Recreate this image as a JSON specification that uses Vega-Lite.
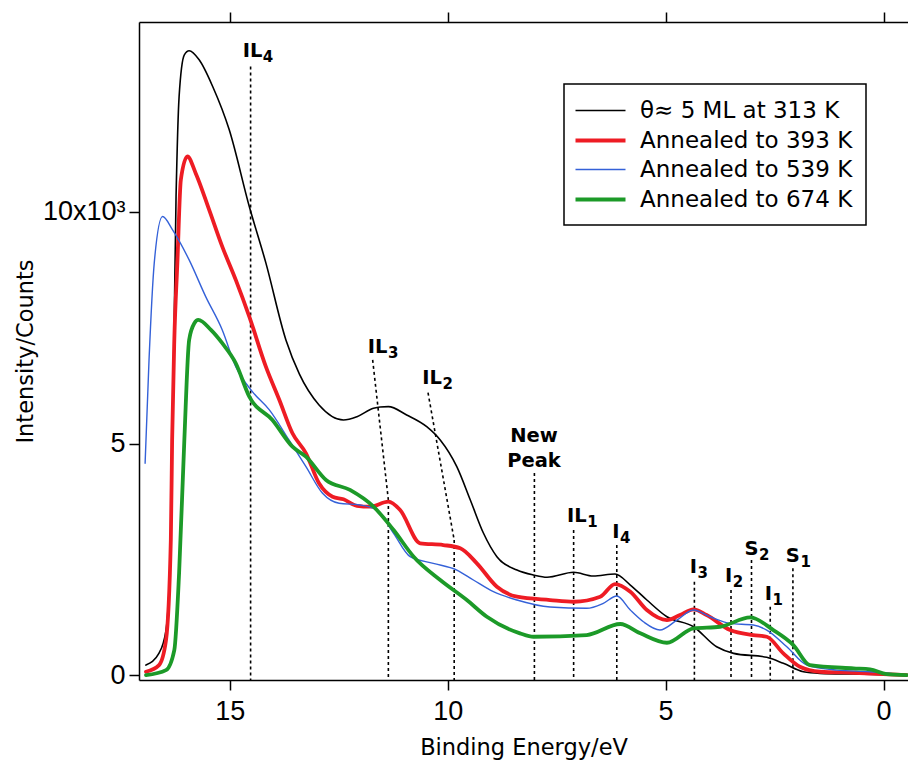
{
"$schema": "https://vega.github.io/schema/vega-lite/v6.json",
"width": 769, "height": 658,
"autosize": {"type": "none"},
"padding": {"left": 139, "top": 22, "right": 0, "bottom": 80},
"background": "white",
"config": {
  "view": {"stroke": null},
  "font": "Liberation Sans",
  "axis": {"domainColor": "black", "domainWidth": 1.5, "tickColor": "black", "tickWidth": 1.5, "tickSize": 10, "labelColor": "black", "titleColor": "black", "grid": false, "labelFont": "Liberation Sans", "labelFontSize": 27, "titleFont": "DejaVu Sans", "titleFontSize": 22.5, "titleFontWeight": "normal", "labelFlush": false, "labelOverlap": false},
  "legend": {"strokeColor": "black", "strokeWidth": 1.5, "fillColor": "white", "padding": 13, "symbolType": "M-2,0H2", "symbolSize": 625, "symbolOffset": 9, "labelOffset": 25, "labelFont": "DejaVu Sans", "labelFontSize": 23, "labelColor": "black", "rowPadding": 3, "labelLimit": 400}
},
"datasets": {
  "curves": [
    {"series":"θ≈ 5 ML at 313 K","E":16.92,"C":222},{"series":"θ≈ 5 ML at 313 K","E":16.62,"C":481},{"series":"θ≈ 5 ML at 313 K","E":16.46,"C":978},{"series":"θ≈ 5 ML at 313 K","E":16.35,"C":2921},{"series":"θ≈ 5 ML at 313 K","E":16.23,"C":10333},{"series":"θ≈ 5 ML at 313 K","E":16.16,"C":12492},{"series":"θ≈ 5 ML at 313 K","E":16.04,"C":13392},{"series":"θ≈ 5 ML at 313 K","E":15.93,"C":13479},{"series":"θ≈ 5 ML at 313 K","E":15.70,"C":13284},{"series":"θ≈ 5 ML at 313 K","E":15.39,"C":12708},{"series":"θ≈ 5 ML at 313 K","E":15.01,"C":11773},{"series":"θ≈ 5 ML at 313 K","E":14.55,"C":10117},{"series":"θ≈ 5 ML at 313 K","E":14.17,"C":8902},{"series":"θ≈ 5 ML at 313 K","E":13.71,"C":7239},{"series":"θ≈ 5 ML at 313 K","E":13.40,"C":6500},{"series":"θ≈ 5 ML at 313 K","E":12.95,"C":5836},{"series":"θ≈ 5 ML at 313 K","E":12.39,"C":5512},{"series":"θ≈ 5 ML at 313 K","E":12.08,"C":5583},{"series":"θ≈ 5 ML at 313 K","E":11.70,"C":5765},{"series":"θ≈ 5 ML at 313 K","E":11.55,"C":5793},{"series":"θ≈ 5 ML at 313 K","E":11.36,"C":5799},{"series":"θ≈ 5 ML at 313 K","E":10.94,"C":5620},{"series":"θ≈ 5 ML at 313 K","E":10.48,"C":5367},{"series":"θ≈ 5 ML at 313 K","E":10.17,"C":5080},{"series":"θ≈ 5 ML at 313 K","E":9.79,"C":4504},{"series":"θ≈ 5 ML at 313 K","E":9.48,"C":3785},{"series":"θ≈ 5 ML at 313 K","E":9.18,"C":3072},{"series":"θ≈ 5 ML at 313 K","E":8.87,"C":2561},{"series":"θ≈ 5 ML at 313 K","E":8.41,"C":2273},{"series":"θ≈ 5 ML at 313 K","E":8.03,"C":2165},{"series":"θ≈ 5 ML at 313 K","E":7.72,"C":2116},{"series":"θ≈ 5 ML at 313 K","E":7.11,"C":2224},{"series":"θ≈ 5 ML at 313 K","E":6.66,"C":2144},{"series":"θ≈ 5 ML at 313 K","E":6.16,"C":2187},{"series":"θ≈ 5 ML at 313 K","E":5.81,"C":1950},{"series":"θ≈ 5 ML at 313 K","E":5.43,"C":1626},{"series":"θ≈ 5 ML at 313 K","E":4.97,"C":1265},{"series":"θ≈ 5 ML at 313 K","E":4.36,"C":1049},{"series":"θ≈ 5 ML at 313 K","E":3.83,"C":617},{"series":"θ≈ 5 ML at 313 K","E":3.44,"C":475},{"series":"θ≈ 5 ML at 313 K","E":2.68,"C":389},{"series":"θ≈ 5 ML at 313 K","E":2.30,"C":259},{"series":"θ≈ 5 ML at 313 K","E":1.84,"C":78},{"series":"θ≈ 5 ML at 313 K","E":1.46,"C":43},{"series":"θ≈ 5 ML at 313 K","E":0.70,"C":28},{"series":"θ≈ 5 ML at 313 K","E":-0.53,"C":6},
    {"series":"Annealed to 393 K","E":16.92,"C":78},{"series":"Annealed to 393 K","E":16.62,"C":222},{"series":"Annealed to 393 K","E":16.46,"C":762},{"series":"Annealed to 393 K","E":16.35,"C":2921},{"series":"Annealed to 393 K","E":16.32,"C":5080},{"series":"Annealed to 393 K","E":16.27,"C":7239},{"series":"Annealed to 393 K","E":16.20,"C":8902},{"series":"Annealed to 393 K","E":16.12,"C":10694},{"series":"Annealed to 393 K","E":15.97,"C":11197},{"series":"Annealed to 393 K","E":15.78,"C":10838},{"series":"Annealed to 393 K","E":15.47,"C":10046},{"series":"Annealed to 393 K","E":15.17,"C":9253},{"series":"Annealed to 393 K","E":14.86,"C":8535},{"series":"Annealed to 393 K","E":14.55,"C":7742},{"series":"Annealed to 393 K","E":14.17,"C":6663},{"series":"Annealed to 393 K","E":13.86,"C":5944},{"series":"Annealed to 393 K","E":13.56,"C":5225},{"series":"Annealed to 393 K","E":13.25,"C":4793},{"series":"Annealed to 393 K","E":12.95,"C":4145},{"series":"Annealed to 393 K","E":12.64,"C":3856},{"series":"Annealed to 393 K","E":12.39,"C":3800},{"series":"Annealed to 393 K","E":12.08,"C":3660},{"series":"Annealed to 393 K","E":11.78,"C":3640},{"series":"Annealed to 393 K","E":11.36,"C":3748},{"series":"Annealed to 393 K","E":11.09,"C":3569},{"series":"Annealed to 393 K","E":10.63,"C":2850},{"series":"Annealed to 393 K","E":10.10,"C":2813},{"series":"Annealed to 393 K","E":9.71,"C":2742},{"series":"Annealed to 393 K","E":9.33,"C":2418},{"series":"Annealed to 393 K","E":8.87,"C":1913},{"series":"Annealed to 393 K","E":8.41,"C":1697},{"series":"Annealed to 393 K","E":7.65,"C":1626},{"series":"Annealed to 393 K","E":7.11,"C":1589},{"series":"Annealed to 393 K","E":6.50,"C":1697},{"series":"Annealed to 393 K","E":6.16,"C":1971},{"series":"Annealed to 393 K","E":5.81,"C":1805},{"series":"Annealed to 393 K","E":5.43,"C":1410},{"series":"Annealed to 393 K","E":4.97,"C":1194},{"series":"Annealed to 393 K","E":4.67,"C":1302},{"series":"Annealed to 393 K","E":4.36,"C":1425},{"series":"Annealed to 393 K","E":4.06,"C":1302},{"series":"Annealed to 393 K","E":3.52,"C":978},{"series":"Annealed to 393 K","E":2.99,"C":870},{"series":"Annealed to 393 K","E":2.68,"C":833},{"series":"Annealed to 393 K","E":2.30,"C":475},{"series":"Annealed to 393 K","E":1.92,"C":186},{"series":"Annealed to 393 K","E":1.46,"C":78},{"series":"Annealed to 393 K","E":0.69,"C":56},{"series":"Annealed to 393 K","E":-0.53,"C":6},
    {"series":"Annealed to 539 K","E":16.94,"C":4577},{"series":"Annealed to 539 K","E":16.85,"C":6807},{"series":"Annealed to 539 K","E":16.73,"C":8902},{"series":"Annealed to 539 K","E":16.54,"C":9901},{"series":"Annealed to 539 K","E":16.31,"C":9614},{"series":"Annealed to 539 K","E":15.93,"C":8966},{"series":"Annealed to 539 K","E":15.55,"C":8174},{"series":"Annealed to 539 K","E":15.17,"C":7455},{"series":"Annealed to 539 K","E":14.86,"C":6663},{"series":"Annealed to 539 K","E":14.48,"C":6123},{"series":"Annealed to 539 K","E":14.09,"C":5728},{"series":"Annealed to 539 K","E":13.64,"C":5080},{"series":"Annealed to 539 K","E":13.25,"C":4504},{"series":"Annealed to 539 K","E":12.87,"C":3929},{"series":"Annealed to 539 K","E":12.49,"C":3713},{"series":"Annealed to 539 K","E":12.01,"C":3677},{"series":"Annealed to 539 K","E":11.62,"C":3569},{"series":"Annealed to 539 K","E":11.24,"C":3066},{"series":"Annealed to 539 K","E":10.86,"C":2561},{"series":"Annealed to 539 K","E":10.33,"C":2418},{"series":"Annealed to 539 K","E":9.79,"C":2273},{"series":"Annealed to 539 K","E":9.41,"C":2058},{"series":"Annealed to 539 K","E":8.95,"C":1805},{"series":"Annealed to 539 K","E":8.41,"C":1626},{"series":"Annealed to 539 K","E":7.65,"C":1475},{"series":"Annealed to 539 K","E":6.81,"C":1447},{"series":"Annealed to 539 K","E":6.43,"C":1554},{"series":"Annealed to 539 K","E":6.12,"C":1712},{"series":"Annealed to 539 K","E":5.81,"C":1410},{"series":"Annealed to 539 K","E":5.51,"C":1157},{"series":"Annealed to 539 K","E":5.13,"C":978},{"series":"Annealed to 539 K","E":4.74,"C":1194},{"series":"Annealed to 539 K","E":4.36,"C":1410},{"series":"Annealed to 539 K","E":3.98,"C":1265},{"series":"Annealed to 539 K","E":3.52,"C":1123},{"series":"Annealed to 539 K","E":2.99,"C":1086},{"series":"Annealed to 539 K","E":2.68,"C":978},{"series":"Annealed to 539 K","E":2.22,"C":617},{"series":"Annealed to 539 K","E":1.76,"C":222},{"series":"Annealed to 539 K","E":1.07,"C":114},{"series":"Annealed to 539 K","E":0.31,"C":78},{"series":"Annealed to 539 K","E":-0.53,"C":6},
    {"series":"Annealed to 674 K","E":16.92,"C":6},{"series":"Annealed to 674 K","E":16.46,"C":114},{"series":"Annealed to 674 K","E":16.27,"C":546},{"series":"Annealed to 674 K","E":16.16,"C":2209},{"series":"Annealed to 674 K","E":16.04,"C":5080},{"series":"Annealed to 674 K","E":15.93,"C":7239},{"series":"Annealed to 674 K","E":15.81,"C":7600},{"series":"Annealed to 674 K","E":15.72,"C":7671},{"series":"Annealed to 674 K","E":15.43,"C":7455},{"series":"Annealed to 674 K","E":15.17,"C":7168},{"series":"Annealed to 674 K","E":14.86,"C":6736},{"series":"Annealed to 674 K","E":14.55,"C":6015},{"series":"Annealed to 674 K","E":14.02,"C":5512},{"series":"Annealed to 674 K","E":13.56,"C":4935},{"series":"Annealed to 674 K","E":13.25,"C":4720},{"series":"Annealed to 674 K","E":12.79,"C":4217},{"series":"Annealed to 674 K","E":12.24,"C":4001},{"series":"Annealed to 674 K","E":11.70,"C":3640},{"series":"Annealed to 674 K","E":11.24,"C":3137},{"series":"Annealed to 674 K","E":10.78,"C":2561},{"series":"Annealed to 674 K","E":10.17,"C":2058},{"series":"Annealed to 674 K","E":9.56,"C":1626},{"series":"Annealed to 674 K","E":9.10,"C":1265},{"series":"Annealed to 674 K","E":8.34,"C":907},{"series":"Annealed to 674 K","E":8.03,"C":833},{"series":"Annealed to 674 K","E":6.81,"C":870},{"series":"Annealed to 674 K","E":6.04,"C":1108},{"series":"Annealed to 674 K","E":5.58,"C":907},{"series":"Annealed to 674 K","E":4.97,"C":704},{"series":"Annealed to 674 K","E":4.36,"C":1015},{"series":"Annealed to 674 K","E":3.75,"C":1049},{"series":"Annealed to 674 K","E":3.06,"C":1252},{"series":"Annealed to 674 K","E":2.53,"C":978},{"series":"Annealed to 674 K","E":2.07,"C":654},{"series":"Annealed to 674 K","E":1.69,"C":222},{"series":"Annealed to 674 K","E":0.69,"C":151},{"series":"Annealed to 674 K","E":0.31,"C":130},{"series":"Annealed to 674 K","E":-0.07,"C":28},{"series":"Annealed to 674 K","E":-0.53,"C":6}
  ],
  "guides": [
    {"x1":14.52,"y1":13140,"x2":14.52,"y2":-100},
    {"x1":11.72,"y1":6807,"x2":11.36,"y2":3785},
    {"x1":11.36,"y1":3785,"x2":11.36,"y2":-100},
    {"x1":10.45,"y1":6101,"x2":9.85,"y2":2919},
    {"x1":9.85,"y1":2919,"x2":9.85,"y2":-100},
    {"x1":8.01,"y1":4368,"x2":8.01,"y2":-100},
    {"x1":7.11,"y1":3137,"x2":7.11,"y2":-100},
    {"x1":6.12,"y1":2813,"x2":6.12,"y2":-100},
    {"x1":4.34,"y1":2021,"x2":4.34,"y2":-100},
    {"x1":3.50,"y1":1842,"x2":3.50,"y2":-100},
    {"x1":3.03,"y1":2489,"x2":3.03,"y2":-100},
    {"x1":2.60,"y1":1481,"x2":2.60,"y2":-100},
    {"x1":2.08,"y1":2310,"x2":2.08,"y2":-100}
  ],
  "labels": [
    {"main":"IL","sub":"4","E":14.25,"C":13349},
    {"main":"IL","sub":"3","E":11.38,"C":6958},
    {"main":"IL","sub":"2","E":10.13,"C":6290},
    {"main":"IL","sub":"1","E":6.81,"C":3303},
    {"main":"I","sub":"4","E":6.06,"C":2958},
    {"main":"I","sub":"3","E":4.28,"C":2202},
    {"main":"I","sub":"2","E":3.47,"C":2021},
    {"main":"S","sub":"2","E":2.87,"C":2597},
    {"main":"I","sub":"1","E":2.56,"C":1626},
    {"main":"S","sub":"1","E":1.92,"C":2453}
  ],
  "words": [
    {"t":"New","E":8.02,"C":5043},
    {"t":"Peak","E":8.02,"C":4504}
  ]
},
"layer": [
  {
    "data": {"name": "guides"},
    "mark": {"type": "rule", "color": "black", "strokeWidth": 1.6, "strokeDash": [3, 3]},
    "encoding": {
      "x": {"field": "x1", "type": "quantitative", "scale": {"domain": [-0.56, 17.08], "reverse": true, "nice": false, "zero": false},
        "axis": {"orient": "bottom", "values": [0, 5, 10, 15], "format": "d", "labelPadding": 8, "title": "Binding Energy/eV", "titleY": 74, "titleBaseline": "alphabetic"}},
      "x2": {"field": "x2"},
      "y": {"field": "y1", "type": "quantitative", "scale": {"domain": [-100, 14100], "nice": false, "zero": false},
        "axis": {"orient": "left", "values": [0, 5000, 10000], "labelExpr": "datum.value == 10000 ? '10x10³' : format(datum.value / 1000, 'd')", "labelPadding": 4, "title": "Intensity/Counts", "titleX": -107, "titleY": 329, "titleAngle": 270, "titleBaseline": "alphabetic"}},
      "y2": {"field": "y2"}
    }
  },
  {
    "data": {"name": "curves"},
    "mark": {"type": "line", "interpolate": "monotone", "strokeJoin": "round", "strokeCap": "round"},
    "encoding": {
      "x": {"field": "E", "type": "quantitative", "axis": {"orient": "top", "values": [0, 5, 10, 15], "labels": false, "title": null}},
      "y": {"field": "C", "type": "quantitative"},
      "color": {"field": "series", "type": "nominal",
        "scale": {"domain": ["θ≈ 5 ML at 313 K", "Annealed to 393 K", "Annealed to 539 K", "Annealed to 674 K"], "range": ["#000000", "#ee1c24", "#3461d8", "#1c9a28"]},
        "legend": {"title": null, "orient": "none", "legendX": 425, "legendY": 62}},
      "strokeWidth": {"field": "series", "type": "nominal",
        "scale": {"type": "ordinal", "domain": ["θ≈ 5 ML at 313 K", "Annealed to 393 K", "Annealed to 539 K", "Annealed to 674 K"], "range": [1.6, 3.8, 1.4, 3.8]},
        "legend": {"title": null, "orient": "none", "legendX": 425, "legendY": 62}}
    }
  },
  {
    "data": {"name": "labels"},
    "mark": {"type": "text", "font": "DejaVu Sans", "fontWeight": "bold", "fontSize": 19.5, "align": "right", "baseline": "alphabetic", "color": "black"},
    "encoding": {
      "x": {"field": "E", "type": "quantitative", "axis": null},
      "y": {"field": "C", "type": "quantitative"},
      "text": {"field": "main"}
    }
  },
  {
    "data": {"name": "labels"},
    "mark": {"type": "text", "font": "DejaVu Sans", "fontWeight": "bold", "fontSize": 15, "align": "left", "baseline": "alphabetic", "dy": 5, "dx": 0.5, "color": "black"},
    "encoding": {
      "x": {"field": "E", "type": "quantitative", "axis": null},
      "y": {"field": "C", "type": "quantitative"},
      "text": {"field": "sub"}
    }
  },
  {
    "data": {"name": "words"},
    "mark": {"type": "text", "font": "DejaVu Sans", "fontWeight": "bold", "fontSize": 19.5, "align": "center", "baseline": "alphabetic", "color": "black"},
    "encoding": {
      "x": {"field": "E", "type": "quantitative", "axis": null},
      "y": {"field": "C", "type": "quantitative"},
      "text": {"field": "t"}
    }
  }
],
"resolve": {"axis": {"x": "independent"}}
}
